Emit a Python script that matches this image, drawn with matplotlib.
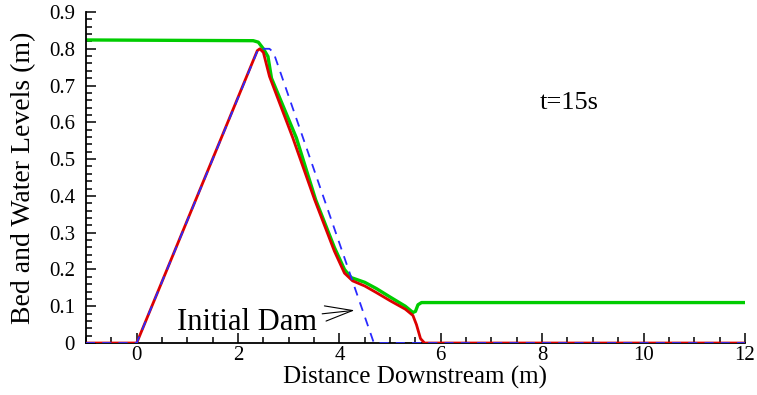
import matplotlib
matplotlib.use("Agg")
import matplotlib.pyplot as plt
from matplotlib.ticker import MultipleLocator

plt.rcParams['font.family'] = ['Liberation Serif', 'DejaVu Serif']

# water surface at t=15s (green)
water_x = [-1.0, 2.3, 2.4, 2.5, 2.59, 2.66, 3.15, 3.53, 3.9, 4.1, 4.23, 4.5, 4.73, 5.0, 5.3, 5.45, 5.5, 5.55, 5.62, 12.0]
water_y = [0.824, 0.822, 0.818, 0.800, 0.779, 0.720, 0.558, 0.390, 0.260, 0.200, 0.178, 0.165, 0.148, 0.125, 0.100, 0.083, 0.086, 0.104, 0.110, 0.110]

# bed at t=15s (red)
bed_x = [-1.0, 0.0, 2.38, 2.43, 2.5, 2.62, 3.08, 3.51, 3.9, 4.1, 4.26, 4.5, 4.73, 5.0, 5.3, 5.45, 5.52, 5.6, 5.68, 12.0]
bed_y = [0.0, 0.0, 0.795, 0.800, 0.790, 0.725, 0.558, 0.390, 0.250, 0.190, 0.169, 0.155, 0.137, 0.115, 0.092, 0.075, 0.050, 0.012, 0.0, 0.0]

# initial dam (blue dashed)
dam_x = [-1.0, 0.0, 2.4, 2.62, 2.7, 4.68, 12.0]
dam_y = [0.0, 0.0, 0.80, 0.80, 0.79, 0.0, 0.0]

fig = plt.figure(figsize=(7.57, 3.95), dpi=100)
ax = fig.add_axes([0.1136, 0.1316, 0.8704, 0.838])

ax.plot(water_x, water_y, color='#00cc00', lw=2.4, zorder=2)
ax.plot(bed_x, bed_y, color='#dd0000', lw=2.0, zorder=3)
ax.plot(dam_x, dam_y, color='#2a2aff', lw=1.3, ls=(0, (5, 4)), zorder=4)

ax.set_xlim(-1, 12)
ax.set_ylim(0, 0.9)
ax.xaxis.set_major_locator(MultipleLocator(2))
ax.xaxis.set_minor_locator(MultipleLocator(0.5))
ax.yaxis.set_major_locator(MultipleLocator(0.1))
ax.yaxis.set_minor_locator(MultipleLocator(0.02))
ax.yaxis.set_major_formatter(plt.FuncFormatter(lambda v, p: '0' if abs(v) < 1e-9 else ('%.1f' % v)))

for s in ['top', 'right']:
    ax.spines[s].set_visible(False)
ax.spines['left'].set_linewidth(1.3)
ax.spines['bottom'].set_linewidth(1.3)
ax.tick_params(which='both', direction='in', labelsize=15, width=1.1)
ax.tick_params(which='major', length=7)
ax.tick_params(axis='y', which='major', pad=8)
ax.tick_params(axis='x', which='major', pad=2)
ax.tick_params(which='minor', length=4)

ax.set_xlabel('Distance Downstream (m)', fontsize=18, labelpad=1)
ax.set_ylabel('Bed and Water Levels (m)', fontsize=20, labelpad=9)

ax.text(7.95, 0.653, 't=15s', fontsize=19, va='center', ha='left')
ax.annotate('Initial Dam', xy=(4.3, 0.089), xytext=(3.55, 0.057),
            fontsize=22, ha='right', va='center',
            arrowprops=dict(arrowstyle='->,head_length=0.9,head_width=0.25', lw=0.8, color='black',
                            shrinkA=2, shrinkB=0))

fig.savefig('out.png', dpi=100)
